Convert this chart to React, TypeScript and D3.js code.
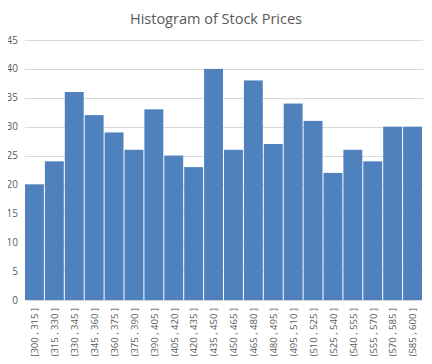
import React, { useEffect, useRef } from 'react';
import * as d3 from 'd3';

const bins = [
  '[300 , 315 ]', '(315 , 330 ]', '(330 , 345 ]', '(345 , 360 ]', '(360 , 375 ]',
  '(375 , 390 ]', '(390 , 405 ]', '(405 , 420 ]', '(420 , 435 ]', '(435 , 450 ]',
  '(450 , 465 ]', '(465 , 480 ]', '(480 , 495 ]', '(495 , 510 ]', '(510 , 525 ]',
  '(525 , 540 ]', '(540 , 555 ]', '(555 , 570 ]', '(570 , 585 ]', '(585 , 600 ]',
];
const counts = [20, 24, 36, 32, 29, 26, 33, 25, 23, 40, 26, 38, 27, 34, 31, 22, 26, 24, 30, 30];
const yTicks = [0, 5, 10, 15, 20, 25, 30, 35, 40, 45];

const App: React.FC = () => {
  const svgRef = useRef<SVGSVGElement>(null);

  useEffect(() => {
    if (!svgRef.current) return;
    const width = 432;
    const height = 364;
    const margin = { top: 40, right: 9, bottom: 64, left: 25 };
    const font = "'Open Sans', 'Liberation Sans', sans-serif";

    const svg = d3.select(svgRef.current);
    svg.selectAll('*').remove();
    svg.attr('width', width).attr('height', height);

    // Chart border
    svg.append('rect')
      .attr('x', 0.5).attr('y', 0.5)
      .attr('width', width - 1).attr('height', height - 1)
      .attr('fill', 'white')
      .attr('stroke', '#d9d9d9');

    const x = d3.scaleBand<string>()
      .domain(bins)
      .range([margin.left, width - margin.right])
      .padding(0);

    const y = d3.scaleLinear()
      .domain([0, 45])
      .range([height - margin.bottom, margin.top]);

    // Gridlines
    svg.append('g')
      .selectAll('line')
      .data(yTicks)
      .enter()
      .append('line')
      .attr('x1', margin.left)
      .attr('x2', width - margin.right)
      .attr('y1', d => Math.round(y(d)) + 0.5)
      .attr('y2', d => Math.round(y(d)) + 0.5)
      .attr('stroke', '#d9d9d9');

    // Y labels
    svg.append('g')
      .selectAll('text')
      .data(yTicks)
      .enter()
      .append('text')
      .attr('x', 18)
      .attr('y', d => y(d))
      .attr('dy', '0.35em')
      .attr('text-anchor', 'end')
      .attr('font-family', font)
      .attr('font-size', 10)
      .attr('fill', '#595959')
      .text(d => d);

    // Bars
    svg.append('g')
      .selectAll('rect')
      .data(counts)
      .enter()
      .append('rect')
      .attr('x', (d, i) => x(bins[i])!)
      .attr('y', d => y(d))
      .attr('width', x.bandwidth() - 1)
      .attr('height', d => y(0) - y(d))
      .attr('fill', '#4f81bd');

    // X labels (rotated)
    svg.append('g')
      .selectAll('text')
      .data(bins)
      .enter()
      .append('text')
      .attr('transform', d => `translate(${x(d)! + x.bandwidth() / 2}, ${y(0) + 8}) rotate(-90)`)
      .attr('dy', '0.35em')
      .attr('text-anchor', 'end')
      .attr('font-family', font)
      .attr('font-size', 9.5)
      .attr('fill', '#595959')
      .text(d => d);

    // Title
    svg.append('text')
      .attr('x', width / 2)
      .attr('y', 24)
      .attr('text-anchor', 'middle')
      .attr('font-family', font)
      .attr('font-size', 14.5)
      .attr('fill', '#595959')
      .text('Histogram of Stock Prices');
  }, []);

  return <svg ref={svgRef} style={{ display: 'block', margin: -8 }}></svg>;
};

export default App;
